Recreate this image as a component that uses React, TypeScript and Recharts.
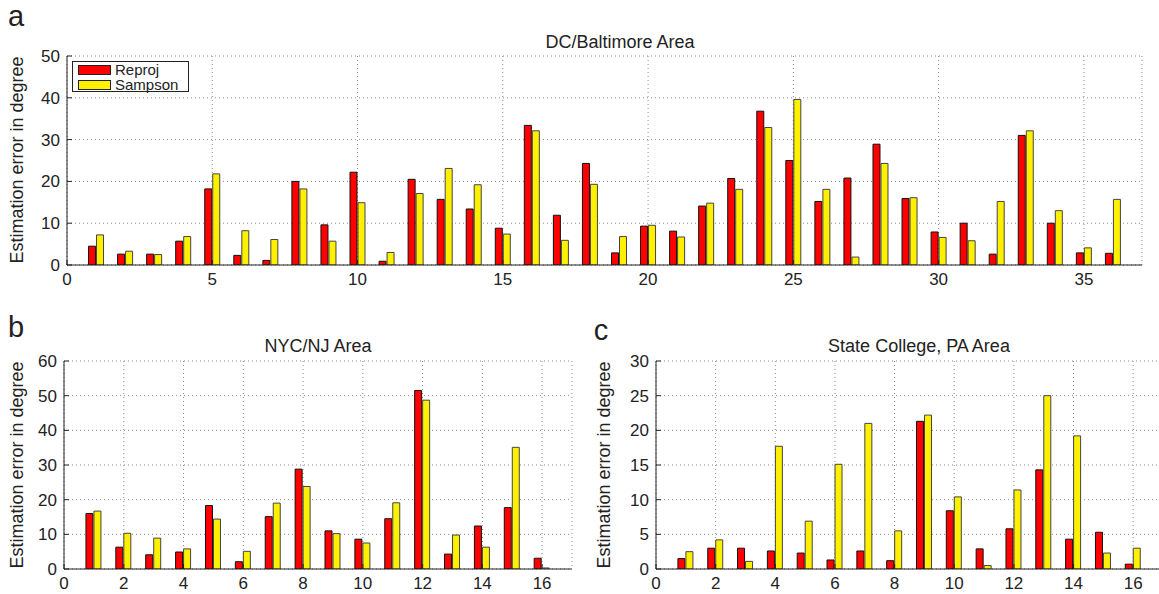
import React from "react";
import { BarChart, Bar, XAxis, YAxis, CartesianGrid, Legend } from "recharts";

const FONT = '"Liberation Sans", Arial, sans-serif';
const RED = "#ff0000";
const YELLOW = "#fff000";
const INK = "#222";

// a) DC/Baltimore
const dcIds = [1, 2, 3, 4, 5, 6, 7, 8, 9, 10, 11, 12, 13, 14, 15, 16, 17, 18, 19, 20, 21, 22, 23, 24, 25, 26, 27, 28, 29, 30, 31, 32, 33, 34, 35, 36];
const dcReproj = [4.5, 2.6, 2.6, 5.7, 18.2, 2.3, 1.1, 20.0, 9.6, 22.2, 0.9, 20.5, 15.7, 13.4, 8.8, 33.4, 11.9, 24.3, 2.9, 9.3, 8.1, 14.1, 20.7, 36.8, 25.0, 15.2, 20.8, 28.9, 15.9, 7.9, 10.0, 2.6, 31.0, 10.0, 2.9, 2.8];
const dcSampson = [7.2, 3.3, 2.5, 6.8, 21.8, 8.2, 6.1, 18.2, 5.7, 14.9, 3.0, 17.1, 23.1, 19.2, 7.4, 32.1, 5.9, 19.3, 6.8, 9.5, 6.7, 14.8, 18.1, 32.9, 39.6, 18.1, 1.9, 24.3, 16.1, 6.6, 5.8, 15.2, 32.1, 13.0, 4.1, 15.7];
const dcXTicks = [0, 5, 10, 15, 20, 25, 30, 35];
const dcYTicks = [0, 10, 20, 30, 40, 50];

// b) NYC/NJ
const nycIds = [1, 2, 3, 4, 5, 6, 7, 8, 9, 10, 11, 12, 13, 14, 15, 16];
const nycReproj = [16.0, 6.3, 4.1, 4.9, 18.3, 2.1, 15.1, 28.8, 11.0, 8.6, 14.5, 51.5, 4.3, 12.4, 17.7, 3.1];
const nycSampson = [16.7, 10.3, 8.9, 5.8, 14.4, 5.1, 19.0, 23.8, 10.2, 7.5, 19.1, 48.7, 9.8, 6.3, 35.1, 0.3];
const nycXTicks = [0, 2, 4, 6, 8, 10, 12, 14, 16];
const nycYTicks = [0, 10, 20, 30, 40, 50, 60];

// c) State College
const scIds = [1, 2, 3, 4, 5, 6, 7, 8, 9, 10, 11, 12, 13, 14, 15, 16];
const scReproj = [1.5, 3.0, 3.0, 2.6, 2.3, 1.3, 2.6, 1.2, 21.3, 8.4, 2.9, 5.8, 14.3, 4.3, 5.3, 0.7];
const scSampson = [2.5, 4.2, 1.1, 17.7, 6.9, 15.1, 21.0, 5.5, 22.2, 10.4, 0.5, 11.4, 25.0, 19.2, 2.3, 3.0];
const scXTicks = [0, 2, 4, 6, 8, 10, 12, 14, 16];
const scYTicks = [0, 5, 10, 15, 20, 25, 30];

const seriesNames = ["Reproj", "Sampson"];

const build = (ids: number[], r: number[], s: number[]) =>
  ids.map((id, i) => ({ id, reproj: r[i], sampson: s[i] }));

const tickStyle = { fontSize: 17, fill: INK, fontFamily: FONT };

function LegendBox() {
  const colors = [RED, YELLOW];
  return (
    <div
      style={{
        boxSizing: "border-box",
        width: 117,
        height: 31,
        border: `1px solid ${INK}`,
        background: "#fff",
        padding: "1px 0 0 5px",
        fontFamily: FONT,
        fontSize: 14,
        lineHeight: "14px",
        color: INK,
      }}
    >
      {seriesNames.map((n, i) => (
        <div key={n} style={{ display: "flex", alignItems: "center", height: 14, marginBottom: 1 }}>
          <span
            style={{
              boxSizing: "border-box",
              width: 33,
              height: 10,
              background: colors[i],
              border: `1px solid ${INK}`,
              marginRight: 4,
            }}
          />
          <span style={{ fontSize: 15 }}>{n}</span>
        </div>
      ))}
    </div>
  );
}

type PanelProps = {
  data: { id: number; reproj: number; sampson: number }[];
  xMax: number;
  xTicks: number[];
  yTicks: number[];
  width: number;
  height: number;
  margin: { top: number; right: number; bottom: number; left: number };
  legend?: boolean;
};

function Panel({ data, xMax, xTicks, yTicks, width, height, margin, legend }: PanelProps) {
  const yMax = yTicks[yTicks.length - 1];
  return (
    <BarChart width={width} height={height} data={data} margin={margin} barSize={7} barGap={1}>
      <CartesianGrid xAxisId="b" yAxisId="l" stroke="#8a8a8a" strokeDasharray="1 3" />
      <XAxis
        xAxisId="b"
        dataKey="id"
        type="number"
        domain={[0, xMax]}
        ticks={xTicks}
        interval={0}
        allowDataOverflow
        height={25}
        tickSize={-5}
        tickMargin={13}
        stroke={INK}
        tick={tickStyle}
      />
      <XAxis
        xAxisId="t"
        orientation="top"
        dataKey="id"
        type="number"
        domain={[0, xMax]}
        ticks={xTicks}
        interval={0}
        allowDataOverflow
        height={0}
        tickSize={-5}
        tick={false}
        stroke={INK}
      />
      <YAxis
        yAxisId="l"
        type="number"
        domain={[0, yMax]}
        ticks={yTicks}
        interval={0}
        allowDataOverflow
        width={40}
        tickSize={-5}
        tickMargin={12}
        stroke={INK}
        tick={tickStyle}
      />
      <YAxis
        yAxisId="r"
        orientation="right"
        type="number"
        domain={[0, yMax]}
        ticks={yTicks}
        interval={0}
        allowDataOverflow
        width={0}
        tickSize={-5}
        tick={false}
        stroke={INK}
      />
      {legend && (
        <Legend
          layout="horizontal"
          verticalAlign="middle"
          align="center"
          wrapperStyle={{ left: 72, top: 61, width: "auto" }}
          content={() => <LegendBox />}
        />
      )}
      <Bar xAxisId="b" yAxisId="l" dataKey="reproj" name="Reproj" fill={RED} stroke="#111" strokeWidth={1} isAnimationActive={false} />
      <Bar xAxisId="b" yAxisId="l" dataKey="sampson" name="Sampson" fill={YELLOW} stroke="#444" strokeWidth={1} isAnimationActive={false} />
    </BarChart>
  );
}

const abs = (left: number, top: number): React.CSSProperties => ({ position: "absolute", left, top });

function Text({ x, y, size, children, rotate }: { x: number; y: number; size: number; children: React.ReactNode; rotate?: boolean }) {
  return (
    <div
      style={{
        position: "absolute",
        left: x,
        top: y,
        transform: `translate(-50%, -50%)${rotate ? " rotate(-90deg)" : ""}`,
        whiteSpace: "nowrap",
        fontFamily: FONT,
        fontSize: size,
        color: INK,
        lineHeight: 1,
      }}
    >
      {children}
    </div>
  );
}

export default function App() {
  const ylab = "Estimation error in degree";
  return (
    <div style={{ position: "absolute", left: 0, top: 0, width: 1159, height: 594, overflow: "hidden", background: "#fff" }}>
      <div style={abs(0, 0)}>
        <Panel
          data={build(dcIds, dcReproj, dcSampson)}
          xMax={37}
          xTicks={dcXTicks}
          yTicks={dcYTicks}
          width={1159}
          height={290}
          margin={{ top: 56, right: 17, bottom: 0, left: 27 }}
          legend
        />
      </div>
      <div style={abs(0, 300)}>
        <Panel
          data={build(nycIds, nycReproj, nycSampson)}
          xMax={17}
          xTicks={nycXTicks}
          yTicks={nycYTicks}
          width={590}
          height={294}
          margin={{ top: 61, right: 18, bottom: 0, left: 24 }}
        />
      </div>
      <div style={abs(590, 300)}>
        <Panel
          data={build(scIds, scReproj, scSampson)}
          xMax={17}
          xTicks={scXTicks}
          yTicks={scYTicks}
          width={600}
          height={294}
          margin={{ top: 61, right: 27, bottom: 0, left: 26 }}
        />
      </div>

      <Text x={16} y={16} size={29}>a</Text>
      <Text x={16} y={327} size={29}>b</Text>
      <Text x={601} y={330} size={29}>c</Text>

      <Text x={620} y={42} size={18}>DC/Baltimore Area</Text>
      <Text x={318} y={346} size={18}>NYC/NJ Area</Text>
      <Text x={919} y={346} size={18}>State College, PA Area</Text>

      <Text x={17} y={160} size={18} rotate>{ylab}</Text>
      <Text x={17} y={465} size={18} rotate>{ylab}</Text>
      <Text x={604} y={465} size={18} rotate>{ylab}</Text>
    </div>
  );
}
